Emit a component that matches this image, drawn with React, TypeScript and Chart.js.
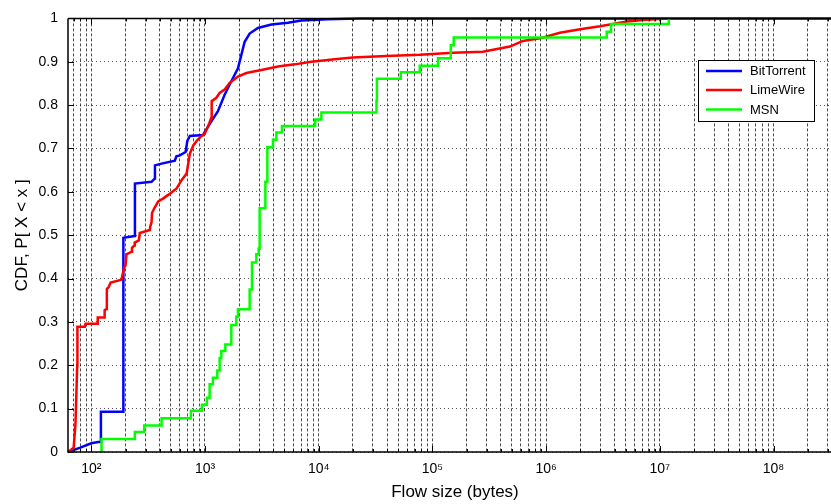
import React, { useEffect, useRef } from "react";
import { Chart, registerables } from "chart.js";

Chart.register(...registerables);

const FONT = '"Liberation Sans", Arial, Helvetica, sans-serif';

const seriesNames = ["BitTorrent", "LimeWire", "MSN"];
const seriesColors = ["#0000ff", "#ff0000", "#00ff00"];

const xAxisTitle = "Flow size (bytes)";
const yAxisTitle = "CDF, P[ X < x ]";

const xMin = 62.4;
const xMax = 4e8;
const xMajorValues = [1e2, 1e3, 1e4, 1e5, 1e6, 1e7, 1e8];
const xMajorLabels = ["10²", "10³", "10⁴", "10⁵", "10⁶", "10⁷", "10⁸"];
const yTickValues = [0, 0.1, 0.2, 0.3, 0.4, 0.5, 0.6, 0.7, 0.8, 0.9, 1];

// BitTorrent (vertices of the plotted curve)
const btX = [62.6, 80, 100, 115, 121, 121.5, 190.5, 191.5, 241, 242, 339, 362, 363, 415, 543, 560, 601, 675, 700, 736, 958, 1098, 1299, 1488, 1704, 1950, 2088, 2232, 2470, 2922, 3834, 5370, 7043, 12000, 23000, 4e8];
const btY = [0, 0.01, 0.02, 0.023, 0.023, 0.093, 0.093, 0.494, 0.498, 0.619, 0.623, 0.631, 0.661, 0.665, 0.672, 0.682, 0.684, 0.692, 0.718, 0.729, 0.731, 0.756, 0.786, 0.824, 0.855, 0.885, 0.916, 0.946, 0.965, 0.978, 0.986, 0.99, 0.995, 0.998, 1.0, 1.0];

// LimeWire (vertices of the plotted curve)
const lwX = [62.6, 70, 72.6, 75.2, 75.5, 87.7, 89, 113, 114, 130, 131, 136, 137, 142, 148, 182, 185, 195, 200, 204, 226, 228, 239, 241, 262, 267, 327, 330, 339, 342, 358, 388, 430, 475, 563, 622, 689, 736, 789, 860, 934, 992, 1097, 1135, 1140, 1150, 1258, 1345, 1488, 1647, 1950, 2310, 3131, 4383, 6147, 8624, 13830, 19900, 39400, 77400, 152000, 278000, 480000, 625000, 882000, 1.32e6, 1.99e6, 2.98e6, 5.12e6, 7.67e6, 1.15e7];
const lwY = [0, 0.01, 0.065, 0.2, 0.289, 0.289, 0.296, 0.296, 0.31, 0.31, 0.327, 0.33, 0.376, 0.38, 0.391, 0.397, 0.4, 0.426, 0.43, 0.456, 0.462, 0.471, 0.476, 0.483, 0.488, 0.505, 0.512, 0.52, 0.53, 0.551, 0.562, 0.578, 0.585, 0.593, 0.608, 0.627, 0.642, 0.688, 0.707, 0.72, 0.729, 0.733, 0.76, 0.771, 0.805, 0.809, 0.817, 0.828, 0.836, 0.851, 0.866, 0.874, 0.881, 0.889, 0.894, 0.9, 0.906, 0.91, 0.913, 0.916, 0.921, 0.923, 0.935, 0.948, 0.954, 0.967, 0.975, 0.982, 0.993, 0.997, 1.0];

// MSN (step positions: value jumps to y at x)
const msnX = [123, 123, 241.5, 292, 415, 752, 939, 1039, 1098, 1174, 1283, 1345, 1392, 1509, 1704, 1886, 1950, 2470, 2588, 2829, 2964, 3024, 3396, 3535, 3960, 4242, 4754, 9310, 10560, 32200, 32500, 52700, 77400, 112000, 145000, 154000, 3.41e6, 3.72e6, 1.2e7];
const msnY = [0, 0.03, 0.046, 0.061, 0.078, 0.095, 0.109, 0.125, 0.156, 0.171, 0.188, 0.217, 0.233, 0.248, 0.293, 0.312, 0.329, 0.375, 0.437, 0.456, 0.469, 0.562, 0.623, 0.703, 0.72, 0.737, 0.752, 0.767, 0.783, 0.81, 0.861, 0.876, 0.891, 0.908, 0.938, 0.956, 0.969, 0.987, 1.0];

function pts(xs: number[], ys: number[]) {
  return xs.map((x, i) => ({ x, y: ys[i] }));
}

const frameAndLegend = {
  id: "frameAndLegend",
  afterDatasetsDraw(chart: any) {
    const { ctx, chartArea, scales } = chart;
    const { left, right, top, bottom } = chartArea;
    const xs = scales.x;
    const ys = scales.y;
    ctx.save();
    ctx.strokeStyle = "#000";
    ctx.lineWidth = 1.5;
    ctx.setLineDash([]);
    ctx.beginPath();
    ctx.moveTo(left, top);
    ctx.lineTo(right, top);
    ctx.moveTo(left, top);
    ctx.lineTo(left, bottom);
    ctx.lineTo(right, bottom);
    ctx.lineTo(right, top);
    ctx.stroke();
    ctx.lineWidth = 1;
    ctx.beginPath();
    xs.ticks.forEach((t: any) => {
      const px = Math.round(xs.getPixelForValue(t.value)) + 0.5;
      const major = xMajorValues.some((m) => Math.abs(m - t.value) / m < 1e-9);
      const len = major ? 6 : 3;
      ctx.moveTo(px, bottom);
      ctx.lineTo(px, bottom - len);
      ctx.moveTo(px, top);
      ctx.lineTo(px, top + len);
    });
    ys.ticks.forEach((t: any) => {
      const py = Math.round(ys.getPixelForValue(t.value)) + 0.5;
      ctx.moveTo(left, py);
      ctx.lineTo(left + 6, py);
    });
    ctx.stroke();
    ctx.restore();
  },
  afterDraw(chart: any) {
    const { ctx } = chart;
    const bx = 698, by = 60, bw = 116, bh = 61;
    ctx.save();
    ctx.fillStyle = "#fff";
    ctx.fillRect(bx, by, bw, bh);
    ctx.strokeStyle = "#000";
    ctx.lineWidth = 1;
    ctx.setLineDash([]);
    ctx.strokeRect(bx + 0.5, by + 0.5, bw, bh);
    const rows = [71, 90, 109.5];
    ctx.font = `13px ${FONT}`;
    ctx.textBaseline = "middle";
    ctx.textAlign = "left";
    seriesNames.forEach((name, i) => {
      ctx.strokeStyle = seriesColors[i];
      ctx.lineWidth = 2.5;
      ctx.beginPath();
      ctx.moveTo(706, rows[i]);
      ctx.lineTo(742, rows[i]);
      ctx.stroke();
      ctx.fillStyle = "#000";
      ctx.fillText(name, 750, rows[i] + 0.5);
    });
    ctx.restore();
  },
};

export default function App() {
  const ref = useRef<HTMLCanvasElement>(null);
  useEffect(() => {
    const chart = new Chart(ref.current as HTMLCanvasElement, {
      type: "line",
      data: {
        datasets: [
          {
            label: seriesNames[0],
            data: pts(btX, btY),
            borderColor: seriesColors[0],
            backgroundColor: seriesColors[0],
            borderWidth: 2.5,
            pointRadius: 0,
            fill: false,
            tension: 0,
            order: 2,
            clip: 6,
          },
          {
            label: seriesNames[1],
            data: pts(lwX, lwY),
            borderColor: seriesColors[1],
            backgroundColor: seriesColors[1],
            borderWidth: 2.5,
            pointRadius: 0,
            fill: false,
            tension: 0,
            order: 1,
            clip: 6,
          },
          {
            label: seriesNames[2],
            data: pts(msnX, msnY),
            borderColor: seriesColors[2],
            backgroundColor: seriesColors[2],
            borderWidth: 2.5,
            pointRadius: 0,
            fill: false,
            stepped: "before",
            order: 0,
            clip: 6,
          },
        ],
      },
      options: {
        animation: false,
        responsive: false,
        devicePixelRatio: 1,
        layout: { padding: { left: 0, top: 13, right: 8, bottom: 0 } },
        plugins: { legend: { display: false }, tooltip: { enabled: false } },
        scales: {
          x: {
            type: "logarithmic",
            min: xMin,
            max: xMax,
            afterBuildTicks: (s: any) => {
              const t: any[] = [];
              for (let d = 1; d <= 8; d++) {
                for (let m = 1; m <= 9; m++) {
                  const v = m * Math.pow(10, d);
                  if (v > xMin && v < xMax) t.push({ value: v });
                }
              }
              s.ticks = t;
            },
            afterFit: (s: any) => {
              s.height = 52;
            },
            ticks: {
              autoSkip: false,
              maxRotation: 0,
              minRotation: 0,
              padding: 9,
              color: "#000",
              font: { family: FONT, size: 14 },
              callback: (v: any) => {
                const i = xMajorValues.findIndex((m) => Math.abs(m - Number(v)) / m < 1e-9);
                return i >= 0 ? xMajorLabels[i] : "";
              },
            },
            grid: { color: "rgba(0,0,0,0.7)", lineWidth: 1, drawTicks: false },
            border: { display: false, dash: [3, 2] },
            title: {
              display: true,
              text: xAxisTitle,
              color: "#000",
              font: { family: FONT, size: 17 },
              padding: { top: 0, bottom: 1 },
            },
          },
          y: {
            type: "linear",
            min: 0,
            max: 1,
            afterBuildTicks: (s: any) => {
              s.ticks = yTickValues.map((v) => ({ value: v }));
            },
            afterFit: (s: any) => {
              s.width = 68;
            },
            ticks: {
              padding: 10,
              color: "#000",
              font: { family: FONT, size: 14 },
              callback: (v: any) => String(Math.round(Number(v) * 10) / 10),
            },
            grid: { color: "rgba(0,0,0,0.65)", lineWidth: 1, drawTicks: false },
            border: { display: false, dash: [1, 3] },
            title: {
              display: true,
              text: yAxisTitle,
              color: "#000",
              font: { family: FONT, size: 17 },
              padding: { top: 12, bottom: 0 },
            },
          },
        },
      },
      plugins: [frameAndLegend],
    } as any);
    return () => chart.destroy();
  }, []);
  return (
    <div
      style={{
        position: "fixed",
        left: 0,
        top: 0,
        width: 831,
        height: 504,
        overflow: "hidden",
        background: "#fff",
      }}
    >
      <canvas ref={ref} width={850} height={504} style={{ display: "block" }} />
    </div>
  );
}
